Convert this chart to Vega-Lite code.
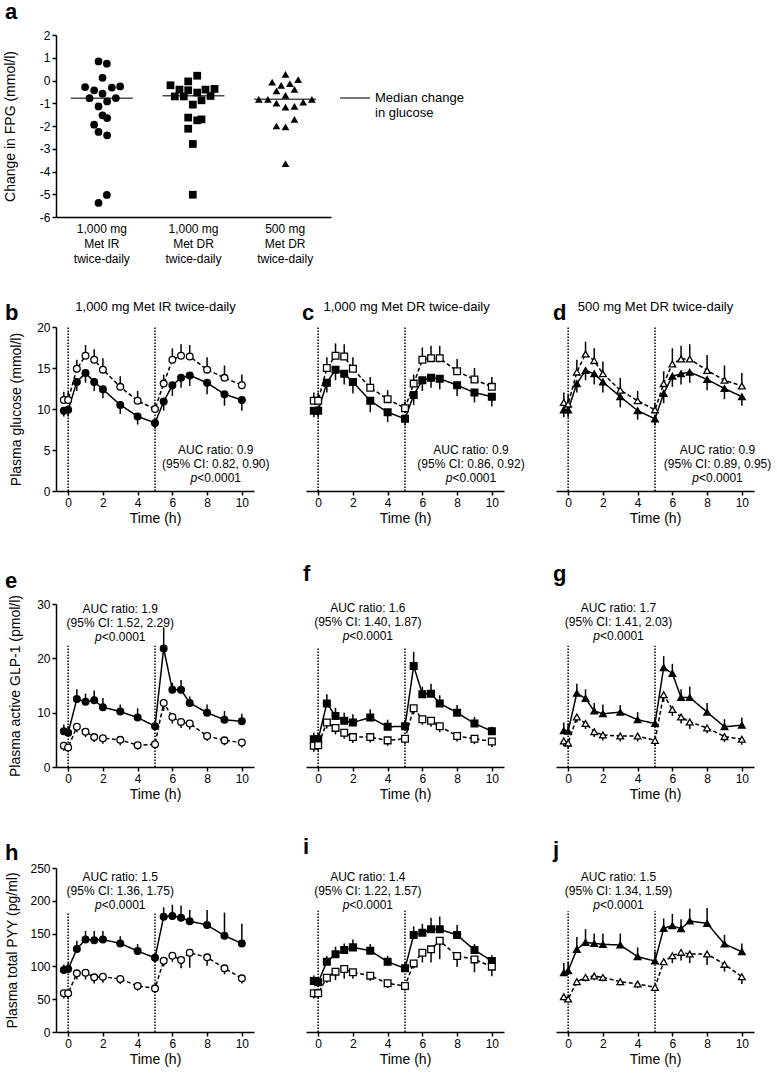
{
 "$schema": "https://vega.github.io/schema/vega-lite/v6.json",
 "padding": {"left": 3, "top": 1, "right": 5, "bottom": 2},
 "config": {
  "font": "Liberation Sans",
  "view": {"stroke": null},
  "axis": {"domainColor": "black", "domainWidth": 1.5, "tickColor": "black", "tickWidth": 1.5, "tickSize": 4, "labelColor": "black", "labelFontSize": 12, "labelPadding": 2, "titleColor": "black", "titleFontSize": 14, "titleFontWeight": "normal", "grid": false},
  "title": {"fontSize": 22, "fontWeight": "bold", "anchor": "start", "frame": "group", "color": "black"},
  "text": {"color": "black", "fontSize": 12}
 },
 "datasets": {
  "fpg": [
   {"regimen": "1,000 mg Met IR twice-daily", "jitter": -3.3, "change": 0.84},
   {"regimen": "1,000 mg Met IR twice-daily", "jitter": 5, "change": 0.74},
   {"regimen": "1,000 mg Met IR twice-daily", "jitter": 0.7, "change": 0.12},
   {"regimen": "1,000 mg Met IR twice-daily", "jitter": -16.7, "change": -0.29},
   {"regimen": "1,000 mg Met IR twice-daily", "jitter": -7.7, "change": -0.43},
   {"regimen": "1,000 mg Met IR twice-daily", "jitter": 10, "change": -0.31},
   {"regimen": "1,000 mg Met IR twice-daily", "jitter": 18.3, "change": -0.26},
   {"regimen": "1,000 mg Met IR twice-daily", "jitter": -12.3, "change": -0.78},
   {"regimen": "1,000 mg Met IR twice-daily", "jitter": 0.7, "change": -0.58},
   {"regimen": "1,000 mg Met IR twice-daily", "jitter": 5.3, "change": -0.92},
   {"regimen": "1,000 mg Met IR twice-daily", "jitter": 14, "change": -0.77},
   {"regimen": "1,000 mg Met IR twice-daily", "jitter": -3.3, "change": -1.14},
   {"regimen": "1,000 mg Met IR twice-daily", "jitter": 0.7, "change": -1.53},
   {"regimen": "1,000 mg Met IR twice-daily", "jitter": 5.3, "change": -1.65},
   {"regimen": "1,000 mg Met IR twice-daily", "jitter": -7.7, "change": -1.94},
   {"regimen": "1,000 mg Met IR twice-daily", "jitter": -3.3, "change": -2.26},
   {"regimen": "1,000 mg Met IR twice-daily", "jitter": 5.3, "change": -2.41},
   {"regimen": "1,000 mg Met IR twice-daily", "jitter": 5, "change": -5.03},
   {"regimen": "1,000 mg Met IR twice-daily", "jitter": -3.3, "change": -5.38},
   {"regimen": "1,000 mg Met DR twice-daily", "jitter": 3.7, "change": 0.21},
   {"regimen": "1,000 mg Met DR twice-daily", "jitter": -5.3, "change": -0.04},
   {"regimen": "1,000 mg Met DR twice-daily", "jitter": -23, "change": -0.21},
   {"regimen": "1,000 mg Met DR twice-daily", "jitter": -14, "change": -0.4},
   {"regimen": "1,000 mg Met DR twice-daily", "jitter": -5.3, "change": -0.43},
   {"regimen": "1,000 mg Met DR twice-daily", "jitter": 12, "change": -0.4},
   {"regimen": "1,000 mg Met DR twice-daily", "jitter": 21, "change": -0.37},
   {"regimen": "1,000 mg Met DR twice-daily", "jitter": -18.7, "change": -0.7},
   {"regimen": "1,000 mg Met DR twice-daily", "jitter": -9.7, "change": -0.7},
   {"regimen": "1,000 mg Met DR twice-daily", "jitter": 3.7, "change": -0.53},
   {"regimen": "1,000 mg Met DR twice-daily", "jitter": 17, "change": -0.68},
   {"regimen": "1,000 mg Met DR twice-daily", "jitter": 8, "change": -0.87},
   {"regimen": "1,000 mg Met DR twice-daily", "jitter": -0.7, "change": -1.06},
   {"regimen": "1,000 mg Met DR twice-daily", "jitter": -5.3, "change": -1.63},
   {"regimen": "1,000 mg Met DR twice-daily", "jitter": 3.7, "change": -1.75},
   {"regimen": "1,000 mg Met DR twice-daily", "jitter": 8, "change": -1.71},
   {"regimen": "1,000 mg Met DR twice-daily", "jitter": -5.3, "change": -2.12},
   {"regimen": "1,000 mg Met DR twice-daily", "jitter": -0.7, "change": -2.79},
   {"regimen": "1,000 mg Met DR twice-daily", "jitter": -0.7, "change": -5.02},
   {"regimen": "500 mg Met DR twice-daily", "jitter": 0.3, "change": 0.27},
   {"regimen": "500 mg Met DR twice-daily", "jitter": -13, "change": -0.07},
   {"regimen": "500 mg Met DR twice-daily", "jitter": -4, "change": -0.21},
   {"regimen": "500 mg Met DR twice-daily", "jitter": 4.7, "change": -0.14},
   {"regimen": "500 mg Met DR twice-daily", "jitter": 13, "change": 0.04},
   {"regimen": "500 mg Met DR twice-daily", "jitter": -8.7, "change": -0.46},
   {"regimen": "500 mg Met DR twice-daily", "jitter": 9.3, "change": -0.39},
   {"regimen": "500 mg Met DR twice-daily", "jitter": 0.3, "change": -0.65},
   {"regimen": "500 mg Met DR twice-daily", "jitter": -26.3, "change": -0.83},
   {"regimen": "500 mg Met DR twice-daily", "jitter": -17.3, "change": -0.83},
   {"regimen": "500 mg Met DR twice-daily", "jitter": 26.7, "change": -0.83},
   {"regimen": "500 mg Met DR twice-daily", "jitter": -8.7, "change": -0.99},
   {"regimen": "500 mg Met DR twice-daily", "jitter": 0.3, "change": -1.17},
   {"regimen": "500 mg Met DR twice-daily", "jitter": 9.3, "change": -1.14},
   {"regimen": "500 mg Met DR twice-daily", "jitter": 18, "change": -0.95},
   {"regimen": "500 mg Met DR twice-daily", "jitter": 9.3, "change": -1.71},
   {"regimen": "500 mg Met DR twice-daily", "jitter": -8.7, "change": -2.0},
   {"regimen": "500 mg Met DR twice-daily", "jitter": 0.3, "change": -2.04},
   {"regimen": "500 mg Met DR twice-daily", "jitter": 0.3, "change": -3.66}
  ],
  "medians": [
   {"regimen": "1,000 mg Met IR twice-daily", "median": -0.78},
   {"regimen": "1,000 mg Met DR twice-daily", "median": -0.67},
   {"regimen": "500 mg Met DR twice-daily", "median": -0.82}
  ],
  "ts": [
   {"panel":"b","arm":"trt","t":-0.25,"v":9.8,"bar":9.1},{"panel":"b","arm":"trt","t":0,"v":9.9,"bar":9.1},{"panel":"b","arm":"trt","t":0.5,"v":13.3,"bar":12.2},{"panel":"b","arm":"trt","t":1,"v":14.4,"bar":13.2},{"panel":"b","arm":"trt","t":1.5,"v":13.3,"bar":12.2},{"panel":"b","arm":"trt","t":2,"v":12.4,"bar":11.3},{"panel":"b","arm":"trt","t":3,"v":10.5,"bar":9.4},{"panel":"b","arm":"trt","t":4,"v":9.1,"bar":8.1},{"panel":"b","arm":"trt","t":5,"v":8.3,"bar":7.6},{"panel":"b","arm":"trt","t":5.5,"v":10.9,"bar":9.8},{"panel":"b","arm":"trt","t":6,"v":12.9,"bar":11.6},{"panel":"b","arm":"trt","t":6.5,"v":13.8,"bar":12.6},{"panel":"b","arm":"trt","t":7,"v":14.1,"bar":12.8},{"panel":"b","arm":"trt","t":8,"v":13.2,"bar":11.8},{"panel":"b","arm":"trt","t":9,"v":11.8,"bar":10.4},{"panel":"b","arm":"trt","t":10,"v":11.1,"bar":9.8},
   {"panel":"b","arm":"ctl","t":-0.25,"v":11.1,"bar":12.1},{"panel":"b","arm":"ctl","t":0,"v":11.1,"bar":12.1},{"panel":"b","arm":"ctl","t":0.5,"v":14.9,"bar":16.0},{"panel":"b","arm":"ctl","t":1,"v":16.5,"bar":17.8},{"panel":"b","arm":"ctl","t":1.5,"v":16.0,"bar":17.3},{"panel":"b","arm":"ctl","t":2,"v":14.8,"bar":16.2},{"panel":"b","arm":"ctl","t":3,"v":12.7,"bar":14.0},{"panel":"b","arm":"ctl","t":4,"v":11.0,"bar":12.2},{"panel":"b","arm":"ctl","t":5,"v":10.0,"bar":10.7},{"panel":"b","arm":"ctl","t":5.5,"v":13.1,"bar":14.2},{"panel":"b","arm":"ctl","t":6,"v":16.0,"bar":17.4},{"panel":"b","arm":"ctl","t":6.5,"v":16.5,"bar":17.9},{"panel":"b","arm":"ctl","t":7,"v":16.4,"bar":17.8},{"panel":"b","arm":"ctl","t":8,"v":14.8,"bar":16.3},{"panel":"b","arm":"ctl","t":9,"v":13.8,"bar":15.3},{"panel":"b","arm":"ctl","t":10,"v":12.9,"bar":14.2},
   {"panel":"c","arm":"trt","t":-0.25,"v":9.8,"bar":9.0},{"panel":"c","arm":"trt","t":0,"v":9.8,"bar":9.0},{"panel":"c","arm":"trt","t":0.5,"v":13.2,"bar":12.0},{"panel":"c","arm":"trt","t":1,"v":14.8,"bar":13.5},{"panel":"c","arm":"trt","t":1.5,"v":14.3,"bar":13.0},{"panel":"c","arm":"trt","t":2,"v":13.3,"bar":11.9},{"panel":"c","arm":"trt","t":3,"v":11.0,"bar":9.6},{"panel":"c","arm":"trt","t":4,"v":9.6,"bar":8.4},{"panel":"c","arm":"trt","t":5,"v":8.8,"bar":8.0},{"panel":"c","arm":"trt","t":5.5,"v":11.7,"bar":10.5},{"panel":"c","arm":"trt","t":6,"v":13.5,"bar":12.2},{"panel":"c","arm":"trt","t":6.5,"v":13.8,"bar":12.6},{"panel":"c","arm":"trt","t":7,"v":13.7,"bar":12.4},{"panel":"c","arm":"trt","t":8,"v":12.9,"bar":11.6},{"panel":"c","arm":"trt","t":9,"v":12.0,"bar":10.8},{"panel":"c","arm":"trt","t":10,"v":11.5,"bar":10.3},
   {"panel":"c","arm":"ctl","t":-0.25,"v":11.0,"bar":12.0},{"panel":"c","arm":"ctl","t":0,"v":11.0,"bar":12.0},{"panel":"c","arm":"ctl","t":0.5,"v":15.0,"bar":16.3},{"panel":"c","arm":"ctl","t":1,"v":16.5,"bar":18.0},{"panel":"c","arm":"ctl","t":1.5,"v":16.4,"bar":17.9},{"panel":"c","arm":"ctl","t":2,"v":14.9,"bar":16.3},{"panel":"c","arm":"ctl","t":3,"v":12.6,"bar":13.9},{"panel":"c","arm":"ctl","t":4,"v":11.2,"bar":12.3},{"panel":"c","arm":"ctl","t":5,"v":10.1,"bar":10.9},{"panel":"c","arm":"ctl","t":5.5,"v":13.1,"bar":14.2},{"panel":"c","arm":"ctl","t":6,"v":16.0,"bar":17.5},{"panel":"c","arm":"ctl","t":6.5,"v":16.2,"bar":17.7},{"panel":"c","arm":"ctl","t":7,"v":16.2,"bar":17.7},{"panel":"c","arm":"ctl","t":8,"v":14.6,"bar":16.1},{"panel":"c","arm":"ctl","t":9,"v":13.6,"bar":15.0},{"panel":"c","arm":"ctl","t":10,"v":12.7,"bar":13.9},
   {"panel":"d","arm":"trt","t":-0.25,"v":9.9,"bar":9.0},{"panel":"d","arm":"trt","t":0,"v":9.9,"bar":9.0},{"panel":"d","arm":"trt","t":0.5,"v":13.1,"bar":12.0},{"panel":"d","arm":"trt","t":1,"v":14.7,"bar":13.5},{"panel":"d","arm":"trt","t":1.5,"v":14.3,"bar":13.0},{"panel":"d","arm":"trt","t":2,"v":13.3,"bar":12.0},{"panel":"d","arm":"trt","t":3,"v":11.5,"bar":10.2},{"panel":"d","arm":"trt","t":4,"v":9.8,"bar":8.7},{"panel":"d","arm":"trt","t":5,"v":8.8,"bar":8.0},{"panel":"d","arm":"trt","t":5.5,"v":11.9,"bar":10.7},{"panel":"d","arm":"trt","t":6,"v":14.0,"bar":12.7},{"panel":"d","arm":"trt","t":6.5,"v":14.3,"bar":13.0},{"panel":"d","arm":"trt","t":7,"v":14.5,"bar":13.2},{"panel":"d","arm":"trt","t":8,"v":13.6,"bar":12.3},{"panel":"d","arm":"trt","t":9,"v":12.5,"bar":11.2},{"panel":"d","arm":"trt","t":10,"v":11.5,"bar":10.4},
   {"panel":"d","arm":"ctl","t":-0.25,"v":10.8,"bar":12.0},{"panel":"d","arm":"ctl","t":0,"v":10.6,"bar":11.8},{"panel":"d","arm":"ctl","t":0.5,"v":14.5,"bar":16.0},{"panel":"d","arm":"ctl","t":1,"v":16.7,"bar":18.2},{"panel":"d","arm":"ctl","t":1.5,"v":15.9,"bar":17.4},{"panel":"d","arm":"ctl","t":2,"v":14.3,"bar":15.8},{"panel":"d","arm":"ctl","t":3,"v":12.3,"bar":13.8},{"panel":"d","arm":"ctl","t":4,"v":11.0,"bar":12.2},{"panel":"d","arm":"ctl","t":5,"v":9.9,"bar":10.7},{"panel":"d","arm":"ctl","t":5.5,"v":13.1,"bar":14.6},{"panel":"d","arm":"ctl","t":6,"v":15.5,"bar":17.4},{"panel":"d","arm":"ctl","t":6.5,"v":16.1,"bar":17.7},{"panel":"d","arm":"ctl","t":7,"v":16.1,"bar":17.9},{"panel":"d","arm":"ctl","t":8,"v":14.7,"bar":16.6},{"panel":"d","arm":"ctl","t":9,"v":13.5,"bar":15.3},{"panel":"d","arm":"ctl","t":10,"v":12.8,"bar":14.4},
   {"panel":"e","arm":"trt","t":-0.25,"v":6.6,"bar":7.8},{"panel":"e","arm":"trt","t":0,"v":6.3,"bar":7.5},{"panel":"e","arm":"trt","t":0.5,"v":12.5,"bar":14.3},{"panel":"e","arm":"trt","t":1,"v":12.0,"bar":13.5},{"panel":"e","arm":"trt","t":1.5,"v":12.3,"bar":14.1},{"panel":"e","arm":"trt","t":2,"v":11.0,"bar":12.7},{"panel":"e","arm":"trt","t":3,"v":10.2,"bar":11.5},{"panel":"e","arm":"trt","t":4,"v":9.1,"bar":10.8},{"panel":"e","arm":"trt","t":5,"v":7.5,"bar":8.4},{"panel":"e","arm":"trt","t":5.5,"v":21.8,"bar":25.7},{"panel":"e","arm":"trt","t":6,"v":14.2,"bar":15.5},{"panel":"e","arm":"trt","t":6.5,"v":14.2,"bar":16.0},{"panel":"e","arm":"trt","t":7,"v":11.8,"bar":13.0},{"panel":"e","arm":"trt","t":8,"v":10.0,"bar":11.5},{"panel":"e","arm":"trt","t":9,"v":8.7,"bar":10.3},{"panel":"e","arm":"trt","t":10,"v":8.4,"bar":9.8},
   {"panel":"e","arm":"ctl","t":-0.25,"v":3.9,"bar":3.0},{"panel":"e","arm":"ctl","t":0,"v":3.6,"bar":2.7},{"panel":"e","arm":"ctl","t":0.5,"v":7.4,"bar":6.4},{"panel":"e","arm":"ctl","t":1,"v":6.5,"bar":5.5},{"panel":"e","arm":"ctl","t":1.5,"v":5.5,"bar":4.6},{"panel":"e","arm":"ctl","t":2,"v":5.3,"bar":4.3},{"panel":"e","arm":"ctl","t":3,"v":5.0,"bar":4.0},{"panel":"e","arm":"ctl","t":4,"v":4.0,"bar":3.2},{"panel":"e","arm":"ctl","t":5,"v":4.2,"bar":3.4},{"panel":"e","arm":"ctl","t":5.5,"v":11.8,"bar":10.3},{"panel":"e","arm":"ctl","t":6,"v":9.2,"bar":8.0},{"panel":"e","arm":"ctl","t":6.5,"v":8.3,"bar":7.2},{"panel":"e","arm":"ctl","t":7,"v":8.0,"bar":6.9},{"panel":"e","arm":"ctl","t":8,"v":5.7,"bar":4.8},{"panel":"e","arm":"ctl","t":9,"v":4.9,"bar":4.0},{"panel":"e","arm":"ctl","t":10,"v":4.5,"bar":3.6},
   {"panel":"f","arm":"trt","t":-0.25,"v":5.1,"bar":6.3},{"panel":"f","arm":"trt","t":0,"v":5.1,"bar":6.3},{"panel":"f","arm":"trt","t":0.5,"v":11.7,"bar":13.4},{"panel":"f","arm":"trt","t":1,"v":9.4,"bar":10.9},{"panel":"f","arm":"trt","t":1.5,"v":8.5,"bar":10.0},{"panel":"f","arm":"trt","t":2,"v":8.2,"bar":9.7},{"panel":"f","arm":"trt","t":3,"v":9.1,"bar":10.6},{"panel":"f","arm":"trt","t":4,"v":7.4,"bar":8.7},{"panel":"f","arm":"trt","t":5,"v":7.5,"bar":8.7},{"panel":"f","arm":"trt","t":5.5,"v":18.6,"bar":21.2},{"panel":"f","arm":"trt","t":6,"v":13.4,"bar":14.8},{"panel":"f","arm":"trt","t":6.5,"v":13.5,"bar":15.3},{"panel":"f","arm":"trt","t":7,"v":11.7,"bar":13.2},{"panel":"f","arm":"trt","t":8,"v":10.0,"bar":11.4},{"panel":"f","arm":"trt","t":9,"v":8.0,"bar":9.2},{"panel":"f","arm":"trt","t":10,"v":6.6,"bar":7.4},
   {"panel":"f","arm":"ctl","t":-0.25,"v":3.9,"bar":2.8},{"panel":"f","arm":"ctl","t":0,"v":4.0,"bar":3.0},{"panel":"f","arm":"ctl","t":0.5,"v":8.2,"bar":7.1},{"panel":"f","arm":"ctl","t":1,"v":7.2,"bar":6.0},{"panel":"f","arm":"ctl","t":1.5,"v":6.3,"bar":5.2},{"panel":"f","arm":"ctl","t":2,"v":5.5,"bar":4.4},{"panel":"f","arm":"ctl","t":3,"v":5.5,"bar":4.5},{"panel":"f","arm":"ctl","t":4,"v":4.9,"bar":3.9},{"panel":"f","arm":"ctl","t":5,"v":5.2,"bar":4.2},{"panel":"f","arm":"ctl","t":5.5,"v":10.8,"bar":9.7},{"panel":"f","arm":"ctl","t":6,"v":8.8,"bar":7.8},{"panel":"f","arm":"ctl","t":6.5,"v":8.5,"bar":7.4},{"panel":"f","arm":"ctl","t":7,"v":7.5,"bar":6.4},{"panel":"f","arm":"ctl","t":8,"v":5.7,"bar":4.7},{"panel":"f","arm":"ctl","t":9,"v":5.2,"bar":4.2},{"panel":"f","arm":"ctl","t":10,"v":4.7,"bar":3.7},
   {"panel":"g","arm":"trt","t":-0.25,"v":6.7,"bar":8.2},{"panel":"g","arm":"trt","t":0,"v":6.6,"bar":8.0},{"panel":"g","arm":"trt","t":0.5,"v":13.6,"bar":15.3},{"panel":"g","arm":"trt","t":1,"v":12.6,"bar":14.3},{"panel":"g","arm":"trt","t":1.5,"v":10.3,"bar":11.8},{"panel":"g","arm":"trt","t":2,"v":9.8,"bar":11.5},{"panel":"g","arm":"trt","t":3,"v":10.1,"bar":11.4},{"panel":"g","arm":"trt","t":4,"v":8.7,"bar":10.1},{"panel":"g","arm":"trt","t":5,"v":8.0,"bar":9.2},{"panel":"g","arm":"trt","t":5.5,"v":18.3,"bar":20.4},{"panel":"g","arm":"trt","t":6,"v":17.2,"bar":19.0},{"panel":"g","arm":"trt","t":6.5,"v":12.8,"bar":14.3},{"panel":"g","arm":"trt","t":7,"v":12.8,"bar":14.8},{"panel":"g","arm":"trt","t":8,"v":10.1,"bar":11.8},{"panel":"g","arm":"trt","t":9,"v":7.4,"bar":8.8},{"panel":"g","arm":"trt","t":10,"v":7.7,"bar":9.1},
   {"panel":"g","arm":"ctl","t":-0.25,"v":4.8,"bar":3.8},{"panel":"g","arm":"ctl","t":0,"v":4.4,"bar":3.4},{"panel":"g","arm":"ctl","t":0.5,"v":9.2,"bar":8.2},{"panel":"g","arm":"ctl","t":1,"v":8.0,"bar":7.0},{"panel":"g","arm":"ctl","t":1.5,"v":6.5,"bar":5.5},{"panel":"g","arm":"ctl","t":2,"v":5.9,"bar":4.9},{"panel":"g","arm":"ctl","t":3,"v":5.7,"bar":4.7},{"panel":"g","arm":"ctl","t":4,"v":5.7,"bar":4.7},{"panel":"g","arm":"ctl","t":5,"v":4.9,"bar":3.9},{"panel":"g","arm":"ctl","t":5.5,"v":13.3,"bar":12.0},{"panel":"g","arm":"ctl","t":6,"v":10.6,"bar":9.4},{"panel":"g","arm":"ctl","t":6.5,"v":9.2,"bar":8.0},{"panel":"g","arm":"ctl","t":7,"v":8.3,"bar":7.0},{"panel":"g","arm":"ctl","t":8,"v":7.2,"bar":6.2},{"panel":"g","arm":"ctl","t":9,"v":5.6,"bar":4.6},{"panel":"g","arm":"ctl","t":10,"v":5.1,"bar":4.1},
   {"panel":"h","arm":"trt","t":-0.25,"v":94.5,"bar":103},{"panel":"h","arm":"trt","t":0,"v":96,"bar":105},{"panel":"h","arm":"trt","t":0.5,"v":126.5,"bar":139},{"panel":"h","arm":"trt","t":1,"v":141,"bar":154},{"panel":"h","arm":"trt","t":1.5,"v":140,"bar":154},{"panel":"h","arm":"trt","t":2,"v":141,"bar":154},{"panel":"h","arm":"trt","t":3,"v":135,"bar":146},{"panel":"h","arm":"trt","t":4,"v":123.4,"bar":134},{"panel":"h","arm":"trt","t":5,"v":113,"bar":120},{"panel":"h","arm":"trt","t":5.5,"v":175.8,"bar":190},{"panel":"h","arm":"trt","t":6,"v":176.8,"bar":194},{"panel":"h","arm":"trt","t":6.5,"v":174.2,"bar":193},{"panel":"h","arm":"trt","t":7,"v":169,"bar":186},{"panel":"h","arm":"trt","t":8,"v":163,"bar":186},{"panel":"h","arm":"trt","t":9,"v":146.8,"bar":182},{"panel":"h","arm":"trt","t":10,"v":135,"bar":165},
   {"panel":"h","arm":"ctl","t":-0.25,"v":59,"bar":51},{"panel":"h","arm":"ctl","t":0,"v":59,"bar":50},{"panel":"h","arm":"ctl","t":0.5,"v":89.4,"bar":80},{"panel":"h","arm":"ctl","t":1,"v":90.4,"bar":80},{"panel":"h","arm":"ctl","t":1.5,"v":83.3,"bar":74},{"panel":"h","arm":"ctl","t":2,"v":84.3,"bar":75},{"panel":"h","arm":"ctl","t":3,"v":80.8,"bar":73},{"panel":"h","arm":"ctl","t":4,"v":70.1,"bar":63},{"panel":"h","arm":"ctl","t":5,"v":66.5,"bar":60},{"panel":"h","arm":"ctl","t":5.5,"v":108.7,"bar":100},{"panel":"h","arm":"ctl","t":6,"v":116.3,"bar":107},{"panel":"h","arm":"ctl","t":6.5,"v":109.7,"bar":97},{"panel":"h","arm":"ctl","t":7,"v":120.9,"bar":98},{"panel":"h","arm":"ctl","t":8,"v":113.8,"bar":101},{"panel":"h","arm":"ctl","t":9,"v":97,"bar":88},{"panel":"h","arm":"ctl","t":10,"v":81.8,"bar":74},
   {"panel":"i","arm":"trt","t":-0.25,"v":77.7,"bar":86},{"panel":"i","arm":"trt","t":0,"v":75.7,"bar":84},{"panel":"i","arm":"trt","t":0.5,"v":107.2,"bar":116},{"panel":"i","arm":"trt","t":1,"v":118.4,"bar":130},{"panel":"i","arm":"trt","t":1.5,"v":125,"bar":135},{"panel":"i","arm":"trt","t":2,"v":129,"bar":141},{"panel":"i","arm":"trt","t":3,"v":124,"bar":134},{"panel":"i","arm":"trt","t":4,"v":107,"bar":116},{"panel":"i","arm":"trt","t":5,"v":97,"bar":106},{"panel":"i","arm":"trt","t":5.5,"v":147.8,"bar":161},{"panel":"i","arm":"trt","t":6,"v":151.4,"bar":165},{"panel":"i","arm":"trt","t":6.5,"v":156.5,"bar":174},{"panel":"i","arm":"trt","t":7,"v":156.5,"bar":176},{"panel":"i","arm":"trt","t":8,"v":147.8,"bar":163},{"panel":"i","arm":"trt","t":9,"v":125,"bar":134},{"panel":"i","arm":"trt","t":10,"v":108.2,"bar":117},
   {"panel":"i","arm":"ctl","t":-0.25,"v":59,"bar":51},{"panel":"i","arm":"ctl","t":0,"v":59,"bar":51},{"panel":"i","arm":"ctl","t":0.5,"v":82.8,"bar":75},{"panel":"i","arm":"ctl","t":1,"v":92,"bar":79},{"panel":"i","arm":"ctl","t":1.5,"v":96,"bar":81},{"panel":"i","arm":"ctl","t":2,"v":91,"bar":81},{"panel":"i","arm":"ctl","t":3,"v":85.9,"bar":78},{"panel":"i","arm":"ctl","t":4,"v":74.2,"bar":67},{"panel":"i","arm":"ctl","t":5,"v":70.1,"bar":63},{"panel":"i","arm":"ctl","t":5.5,"v":104.6,"bar":97},{"panel":"i","arm":"ctl","t":6,"v":120.9,"bar":106},{"panel":"i","arm":"ctl","t":6.5,"v":126,"bar":106},{"panel":"i","arm":"ctl","t":7,"v":139.2,"bar":111},{"panel":"i","arm":"ctl","t":8,"v":115.8,"bar":99},{"panel":"i","arm":"ctl","t":9,"v":110.7,"bar":91},{"panel":"i","arm":"ctl","t":10,"v":99.6,"bar":85},
   {"panel":"j","arm":"trt","t":-0.25,"v":90.4,"bar":105},{"panel":"j","arm":"trt","t":0,"v":93.5,"bar":107},{"panel":"j","arm":"trt","t":0.5,"v":126,"bar":145},{"panel":"j","arm":"trt","t":1,"v":136.7,"bar":157},{"panel":"j","arm":"trt","t":1.5,"v":135.1,"bar":150},{"panel":"j","arm":"trt","t":2,"v":133.6,"bar":150},{"panel":"j","arm":"trt","t":3,"v":132.6,"bar":150},{"panel":"j","arm":"trt","t":4,"v":114.8,"bar":129},{"panel":"j","arm":"trt","t":5,"v":108.2,"bar":123},{"panel":"j","arm":"trt","t":5.5,"v":158,"bar":173},{"panel":"j","arm":"trt","t":6,"v":162,"bar":180},{"panel":"j","arm":"trt","t":6.5,"v":157.5,"bar":172},{"panel":"j","arm":"trt","t":7,"v":169.2,"bar":188},{"panel":"j","arm":"trt","t":8,"v":165.6,"bar":189},{"panel":"j","arm":"trt","t":9,"v":134.1,"bar":148},{"panel":"j","arm":"trt","t":10,"v":122.4,"bar":135},
   {"panel":"j","arm":"ctl","t":-0.25,"v":53.8,"bar":48},{"panel":"j","arm":"ctl","t":0,"v":50.3,"bar":45},{"panel":"j","arm":"ctl","t":0.5,"v":76.7,"bar":71},{"panel":"j","arm":"ctl","t":1,"v":83.3,"bar":77},{"panel":"j","arm":"ctl","t":1.5,"v":85.3,"bar":79},{"panel":"j","arm":"ctl","t":2,"v":83.3,"bar":77},{"panel":"j","arm":"ctl","t":3,"v":76.7,"bar":71},{"panel":"j","arm":"ctl","t":4,"v":73.2,"bar":67},{"panel":"j","arm":"ctl","t":5,"v":68,"bar":62},{"panel":"j","arm":"ctl","t":5.5,"v":107.2,"bar":102},{"panel":"j","arm":"ctl","t":6,"v":116.3,"bar":105},{"panel":"j","arm":"ctl","t":6.5,"v":121.4,"bar":109},{"panel":"j","arm":"ctl","t":7,"v":118.9,"bar":105},{"panel":"j","arm":"ctl","t":8,"v":118.9,"bar":102},{"panel":"j","arm":"ctl","t":9,"v":103.1,"bar":92},{"panel":"j","arm":"ctl","t":10,"v":84.3,"bar":73}
  ]
 },
 "spacing": 36,
 "resolve": {"scale": {"x": "independent", "y": "independent"}},
 "vconcat": [
  {
   "width": 275, "height": 182,
   "title": {"text": "a", "dx": -51, "offset": 5},
   "layer": [
    {"data": {"name": "fpg"},
     "mark": {"type": "point", "filled": true, "size": 60, "opacity": 1, "color": "black"},
     "encoding": {
      "x": {"field": "regimen", "type": "nominal", "scale": {"domain": ["1,000 mg Met IR twice-daily", "1,000 mg Met DR twice-daily", "500 mg Met DR twice-daily"], "paddingInner": 0, "paddingOuter": 0}, "axis": {"title": null, "ticks": false, "labelAngle": 0, "labelPadding": 6, "labelLineHeight": 15, "labelFontSize": 12, "labelExpr": "[split(datum.label,' ')[0]+' '+split(datum.label,' ')[1], split(datum.label,' ')[2]+' '+split(datum.label,' ')[3], split(datum.label,' ')[4]]"}},
      "xOffset": {"field": "jitter", "type": "quantitative", "scale": {"domain": [-45.8, 45.8]}},
      "y": {"field": "change", "type": "quantitative", "scale": {"domain": [-6, 2], "nice": false}, "axis": {"values": [-6, -5, -4, -3, -2, -1, 0, 1, 2], "labelOverlap": false, "title": "Change in FPG (mmol/l)", "labelExpr": "'' + datum.value", "titlePadding": 22}},
      "shape": {"field": "regimen", "type": "nominal", "scale": {"domain": ["1,000 mg Met IR twice-daily", "1,000 mg Met DR twice-daily", "500 mg Met DR twice-daily"], "range": ["circle", "square", "triangle-up"]}, "legend": null}
     }},
    {"data": {"name": "medians"},
     "mark": {"type": "tick", "thickness": 1.5, "size": 62},
     "encoding": {
      "x": {"field": "regimen", "type": "nominal", "scale": {"domain": ["1,000 mg Met IR twice-daily", "1,000 mg Met DR twice-daily", "500 mg Met DR twice-daily"], "paddingInner": 0, "paddingOuter": 0}, "axis": {"title": null, "ticks": false, "labelAngle": 0, "labelPadding": 6, "labelLineHeight": 15, "labelFontSize": 12, "labelExpr": "[split(datum.label,' ')[0]+' '+split(datum.label,' ')[1], split(datum.label,' ')[2]+' '+split(datum.label,' ')[3], split(datum.label,' ')[4]]"}},
      "y": {"field": "median", "type": "quantitative", "scale": {"domain": [-6, 2], "nice": false}, "axis": {"values": [-6, -5, -4, -3, -2, -1, 0, 1, 2], "labelOverlap": false, "title": "Change in FPG (mmol/l)", "labelExpr": "'' + datum.value", "titlePadding": 22}},
      "color": {"datum": "Median change in glucose", "type": "nominal", "scale": {"range": ["black"]}, "legend": {"orient": "none", "legendX": 283, "legendY": 47, "title": null, "symbolType": "stroke", "symbolSize": 900, "symbolStrokeWidth": 1.5, "symbolStrokeColor": "black", "labelFontSize": 13, "labelOffset": 4, "labelColor": "black", "labelLimit": 0, "labelBaseline": "middle", "labelLineHeight": 14, "padding": 0, "labelExpr": "['Median change', 'in glucose']"}}
     }}
   ]
  },
  {
   "spacing": 38,
   "resolve": {"scale": {"x": "independent", "y": "independent"}},
   "vconcat": [
    {
     "bounds": "flush", "spacing": 52,
     "resolve": {"scale": {"x": "independent", "y": "independent"}},
     "hconcat": [
      {"width": 198, "height": 164,
       "title": {"text": "b", "dx": -51, "offset": -25},
       "resolve": {"axis": {"x": "independent"}},
       "layer": [
        {"data": {"values": [{"dose": 0}, {"dose": 5}]},
         "mark": {"type": "rule", "strokeDash": [1.5, 1.5], "strokeWidth": 1.5, "color": "black"},
         "encoding": {
          "x": {"field": "dose", "type": "quantitative", "scale": {"domain": [-0.7, 10.7], "nice": false, "zero": false}, "axis": {"orient": "top", "title": "1,000 mg Met IR twice-daily", "labels": false, "ticks": false, "domain": false, "titlePadding": 14, "titleFontSize": 13}},
          "y": {"datum": 0, "type": "quantitative", "scale": {"domain": [0, 20], "nice": false}, "axis": {"values": [0, 5, 10, 15, 20], "title": "Plasma glucose (mmol/l)", "titlePadding": 13}},
          "y2": {"datum": 20}}},
        {"data": {"name": "ts"}, "transform": [{"filter": "datum.panel === 'b'"}],
         "encoding": {
          "x": {"field": "t", "type": "quantitative", "scale": {"domain": [-0.7, 10.7], "nice": false, "zero": false}, "axis": {"values": [0, 2, 4, 6, 8, 10], "title": "Time (h)", "titlePadding": 3}},
          "y": {"field": "v", "type": "quantitative", "scale": {"domain": [0, 20], "nice": false}, "axis": {"values": [0, 5, 10, 15, 20], "title": "Plasma glucose (mmol/l)", "titlePadding": 13}}},
         "layer": [
          {"mark": {"type": "rule", "strokeWidth": 1.5, "color": "black"}, "encoding": {"y2": {"field": "bar"}}},
          {"mark": {"type": "line", "strokeWidth": 1.5, "color": "black"}, "encoding": {"strokeDash": {"field": "arm", "type": "nominal", "scale": {"domain": ["trt", "ctl"], "range": [[1, 0], [4, 2.5]]}, "legend": null}}},
          {"mark": {"type": "point", "shape": "circle", "filled": true, "size": 45, "stroke": "black", "strokeWidth": 1.3, "opacity": 1}, "encoding": {"fill": {"field": "arm", "type": "nominal", "scale": {"domain": ["trt", "ctl"], "range": ["black", "white"]}, "legend": null}}}
         ]},
        {"data": {"values": [{"l1": "AUC ratio: 0.9", "l2": "(95% CI: 0.82, 0.90)", "p": "p", "pv": "<0.0001"}]},
         "encoding": {
          "x": {"datum": 8.5, "type": "quantitative", "scale": {"domain": [-0.7, 10.7], "nice": false, "zero": false}, "axis": null},
          "y": {"datum": 5, "type": "quantitative", "scale": {"domain": [0, 20], "nice": false}, "axis": {"values": [0, 5, 10, 15, 20], "title": "Plasma glucose (mmol/l)", "titlePadding": 13}}},
         "layer": [
          {"mark": {"type": "text", "align": "center", "baseline": "middle"}, "encoding": {"text": {"field": "l1"}}},
          {"mark": {"type": "text", "align": "center", "baseline": "middle", "dy": 14}, "encoding": {"text": {"field": "l2"}}},
          {"mark": {"type": "text", "align": "left", "baseline": "middle", "dy": 28, "dx": -25.2, "fontStyle": "italic"}, "encoding": {"text": {"field": "p"}}},
          {"mark": {"type": "text", "align": "left", "baseline": "middle", "dy": 28, "dx": -18.5}, "encoding": {"text": {"field": "pv"}}}
         ]}
       ]},
      {"width": 198, "height": 164,
       "title": {"text": "c", "dx": -4, "offset": -25},
       "resolve": {"axis": {"x": "independent"}},
       "layer": [
        {"data": {"values": [{"dose": 0}, {"dose": 5}]},
         "mark": {"type": "rule", "strokeDash": [1.5, 1.5], "strokeWidth": 1.5, "color": "black"},
         "encoding": {
          "x": {"field": "dose", "type": "quantitative", "scale": {"domain": [-0.7, 10.7], "nice": false, "zero": false}, "axis": {"orient": "top", "title": "1,000 mg Met DR twice-daily", "labels": false, "ticks": false, "domain": false, "titlePadding": 14, "titleFontSize": 13, "titleX": 17, "titleAlign": "left", "titleAnchor": "start"}},
          "y": {"datum": 0, "type": "quantitative", "scale": {"domain": [0, 20], "nice": false}, "axis": null},
          "y2": {"datum": 20}}},
        {"data": {"name": "ts"}, "transform": [{"filter": "datum.panel === 'c'"}],
         "encoding": {
          "x": {"field": "t", "type": "quantitative", "scale": {"domain": [-0.7, 10.7], "nice": false, "zero": false}, "axis": {"values": [0, 2, 4, 6, 8, 10], "title": "Time (h)", "titlePadding": 3}},
          "y": {"field": "v", "type": "quantitative", "scale": {"domain": [0, 20], "nice": false}, "axis": null}},
         "layer": [
          {"mark": {"type": "rule", "strokeWidth": 1.5, "color": "black"}, "encoding": {"y2": {"field": "bar"}}},
          {"mark": {"type": "line", "strokeWidth": 1.5, "color": "black"}, "encoding": {"strokeDash": {"field": "arm", "type": "nominal", "scale": {"domain": ["trt", "ctl"], "range": [[1, 0], [4, 2.5]]}, "legend": null}}},
          {"mark": {"type": "point", "shape": "square", "filled": true, "size": 45, "stroke": "black", "strokeWidth": 1.3, "opacity": 1}, "encoding": {"fill": {"field": "arm", "type": "nominal", "scale": {"domain": ["trt", "ctl"], "range": ["black", "white"]}, "legend": null}}}
         ]},
        {"data": {"values": [{"l1": "AUC ratio: 0.9", "l2": "(95% CI: 0.86, 0.92)", "p": "p", "pv": "<0.0001"}]},
         "encoding": {
          "x": {"datum": 8.8, "type": "quantitative", "scale": {"domain": [-0.7, 10.7], "nice": false, "zero": false}, "axis": null},
          "y": {"datum": 5, "type": "quantitative", "scale": {"domain": [0, 20], "nice": false}, "axis": null}},
         "layer": [
          {"mark": {"type": "text", "align": "center", "baseline": "middle"}, "encoding": {"text": {"field": "l1"}}},
          {"mark": {"type": "text", "align": "center", "baseline": "middle", "dy": 14}, "encoding": {"text": {"field": "l2"}}},
          {"mark": {"type": "text", "align": "left", "baseline": "middle", "dy": 28, "dx": -25.2, "fontStyle": "italic"}, "encoding": {"text": {"field": "p"}}},
          {"mark": {"type": "text", "align": "left", "baseline": "middle", "dy": 28, "dx": -18.5}, "encoding": {"text": {"field": "pv"}}}
         ]}
       ]},
      {"width": 198, "height": 164,
       "title": {"text": "d", "dx": -3, "offset": -25},
       "resolve": {"axis": {"x": "independent"}},
       "layer": [
        {"data": {"values": [{"dose": 0}, {"dose": 5}]},
         "mark": {"type": "rule", "strokeDash": [1.5, 1.5], "strokeWidth": 1.5, "color": "black"},
         "encoding": {
          "x": {"field": "dose", "type": "quantitative", "scale": {"domain": [-0.7, 10.7], "nice": false, "zero": false}, "axis": {"orient": "top", "title": "500 mg Met DR twice-daily", "labels": false, "ticks": false, "domain": false, "titlePadding": 14, "titleFontSize": 13}},
          "y": {"datum": 0, "type": "quantitative", "scale": {"domain": [0, 20], "nice": false}, "axis": null},
          "y2": {"datum": 20}}},
        {"data": {"name": "ts"}, "transform": [{"filter": "datum.panel === 'd'"}],
         "encoding": {
          "x": {"field": "t", "type": "quantitative", "scale": {"domain": [-0.7, 10.7], "nice": false, "zero": false}, "axis": {"values": [0, 2, 4, 6, 8, 10], "title": "Time (h)", "titlePadding": 3}},
          "y": {"field": "v", "type": "quantitative", "scale": {"domain": [0, 20], "nice": false}, "axis": null}},
         "layer": [
          {"mark": {"type": "rule", "strokeWidth": 1.5, "color": "black"}, "encoding": {"y2": {"field": "bar"}}},
          {"mark": {"type": "line", "strokeWidth": 1.5, "color": "black"}, "encoding": {"strokeDash": {"field": "arm", "type": "nominal", "scale": {"domain": ["trt", "ctl"], "range": [[1, 0], [4, 2.5]]}, "legend": null}}},
          {"mark": {"type": "point", "shape": "triangle-up", "filled": true, "size": 45, "stroke": "black", "strokeWidth": 1.3, "opacity": 1}, "encoding": {"fill": {"field": "arm", "type": "nominal", "scale": {"domain": ["trt", "ctl"], "range": ["black", "white"]}, "legend": null}}}
         ]},
        {"data": {"values": [{"l1": "AUC ratio: 0.9", "l2": "(95% CI: 0.89, 0.95)", "p": "p", "pv": "<0.0001"}]},
         "encoding": {
          "x": {"datum": 8.6, "type": "quantitative", "scale": {"domain": [-0.7, 10.7], "nice": false, "zero": false}, "axis": null},
          "y": {"datum": 5, "type": "quantitative", "scale": {"domain": [0, 20], "nice": false}, "axis": null}},
         "layer": [
          {"mark": {"type": "text", "align": "center", "baseline": "middle"}, "encoding": {"text": {"field": "l1"}}},
          {"mark": {"type": "text", "align": "center", "baseline": "middle", "dy": 14}, "encoding": {"text": {"field": "l2"}}},
          {"mark": {"type": "text", "align": "left", "baseline": "middle", "dy": 28, "dx": -25.2, "fontStyle": "italic"}, "encoding": {"text": {"field": "p"}}},
          {"mark": {"type": "text", "align": "left", "baseline": "middle", "dy": 28, "dx": -18.5}, "encoding": {"text": {"field": "pv"}}}
         ]}
       ]}
     ]
    },
    {
     "spacing": 35,
     "resolve": {"scale": {"x": "independent", "y": "independent"}},
     "vconcat": [
      {
       "bounds": "flush", "spacing": 52,
       "resolve": {"scale": {"x": "independent", "y": "independent"}},
       "hconcat": [
        {"width": 198, "height": 163,
         "title": {"text": "e", "dx": -51, "offset": 1},
         "layer": [
          {"data": {"values": [{"dose": 0}, {"dose": 5}]},
           "mark": {"type": "rule", "strokeDash": [1.5, 1.5], "strokeWidth": 1.5, "color": "black"},
           "encoding": {
            "x": {"field": "dose", "type": "quantitative", "scale": {"domain": [-0.7, 10.7], "nice": false, "zero": false}, "axis": {"values": [0, 2, 4, 6, 8, 10], "title": "Time (h)", "titlePadding": 3}},
            "y": {"datum": 0, "type": "quantitative", "scale": {"domain": [0, 30], "nice": false}, "axis": {"values": [0, 10, 20, 30], "title": "Plasma active GLP-1 (pmol/l)", "titlePadding": 14}},
            "y2": {"datum": 22.3}}},
          {"data": {"name": "ts"}, "transform": [{"filter": "datum.panel === 'e'"}],
           "encoding": {
            "x": {"field": "t", "type": "quantitative", "scale": {"domain": [-0.7, 10.7], "nice": false, "zero": false}, "axis": {"values": [0, 2, 4, 6, 8, 10], "title": "Time (h)", "titlePadding": 3}},
            "y": {"field": "v", "type": "quantitative", "scale": {"domain": [0, 30], "nice": false}, "axis": {"values": [0, 10, 20, 30], "title": "Plasma active GLP-1 (pmol/l)", "titlePadding": 14}}},
           "layer": [
            {"mark": {"type": "rule", "strokeWidth": 1.5, "color": "black"}, "encoding": {"y2": {"field": "bar"}}},
            {"mark": {"type": "line", "strokeWidth": 1.5, "color": "black"}, "encoding": {"strokeDash": {"field": "arm", "type": "nominal", "scale": {"domain": ["trt", "ctl"], "range": [[1, 0], [4, 2.5]]}, "legend": null}}},
            {"mark": {"type": "point", "shape": "circle", "filled": true, "size": 45, "stroke": "black", "strokeWidth": 1.3, "opacity": 1}, "encoding": {"fill": {"field": "arm", "type": "nominal", "scale": {"domain": ["trt", "ctl"], "range": ["black", "white"]}, "legend": null}}}
           ]},
          {"data": {"values": [{"l1": "AUC ratio: 1.9", "l2": "(95% CI: 1.52, 2.29)", "p": "p", "pv": "<0.0001"}]},
           "encoding": {
            "x": {"datum": 3.0, "type": "quantitative", "scale": {"domain": [-0.7, 10.7], "nice": false, "zero": false}, "axis": {"values": [0, 2, 4, 6, 8, 10], "title": "Time (h)", "titlePadding": 3}},
            "y": {"datum": 29.0, "type": "quantitative", "scale": {"domain": [0, 30], "nice": false}, "axis": {"values": [0, 10, 20, 30], "title": "Plasma active GLP-1 (pmol/l)", "titlePadding": 14}}},
           "layer": [
            {"mark": {"type": "text", "align": "center", "baseline": "middle"}, "encoding": {"text": {"field": "l1"}}},
            {"mark": {"type": "text", "align": "center", "baseline": "middle", "dy": 14}, "encoding": {"text": {"field": "l2"}}},
            {"mark": {"type": "text", "align": "left", "baseline": "middle", "dy": 28, "dx": -25.2, "fontStyle": "italic"}, "encoding": {"text": {"field": "p"}}},
            {"mark": {"type": "text", "align": "left", "baseline": "middle", "dy": 28, "dx": -18.5}, "encoding": {"text": {"field": "pv"}}}
           ]}
         ]},
        {"width": 198, "height": 163,
         "title": {"text": "f", "dx": -3, "offset": 16},
         "layer": [
          {"data": {"values": [{"dose": 0}, {"dose": 5}]},
           "mark": {"type": "rule", "strokeDash": [1.5, 1.5], "strokeWidth": 1.5, "color": "black"},
           "encoding": {
            "x": {"field": "dose", "type": "quantitative", "scale": {"domain": [-0.7, 10.7], "nice": false, "zero": false}, "axis": {"values": [0, 2, 4, 6, 8, 10], "title": "Time (h)", "titlePadding": 3}},
            "y": {"datum": 0, "type": "quantitative", "scale": {"domain": [0, 30], "nice": false}, "axis": null},
            "y2": {"datum": 21.8}}},
          {"data": {"name": "ts"}, "transform": [{"filter": "datum.panel === 'f'"}],
           "encoding": {
            "x": {"field": "t", "type": "quantitative", "scale": {"domain": [-0.7, 10.7], "nice": false, "zero": false}, "axis": {"values": [0, 2, 4, 6, 8, 10], "title": "Time (h)", "titlePadding": 3}},
            "y": {"field": "v", "type": "quantitative", "scale": {"domain": [0, 30], "nice": false}, "axis": null}},
           "layer": [
            {"mark": {"type": "rule", "strokeWidth": 1.5, "color": "black"}, "encoding": {"y2": {"field": "bar"}}},
            {"mark": {"type": "line", "strokeWidth": 1.5, "color": "black"}, "encoding": {"strokeDash": {"field": "arm", "type": "nominal", "scale": {"domain": ["trt", "ctl"], "range": [[1, 0], [4, 2.5]]}, "legend": null}}},
            {"mark": {"type": "point", "shape": "square", "filled": true, "size": 45, "stroke": "black", "strokeWidth": 1.3, "opacity": 1}, "encoding": {"fill": {"field": "arm", "type": "nominal", "scale": {"domain": ["trt", "ctl"], "range": ["black", "white"]}, "legend": null}}}
           ]},
          {"data": {"values": [{"l1": "AUC ratio: 1.6", "l2": "(95% CI: 1.40, 1.87)", "p": "p", "pv": "<0.0001"}]},
           "encoding": {
            "x": {"datum": 2.86, "type": "quantitative", "scale": {"domain": [-0.7, 10.7], "nice": false, "zero": false}, "axis": {"values": [0, 2, 4, 6, 8, 10], "title": "Time (h)", "titlePadding": 3}},
            "y": {"datum": 29.2, "type": "quantitative", "scale": {"domain": [0, 30], "nice": false}, "axis": null}},
           "layer": [
            {"mark": {"type": "text", "align": "center", "baseline": "middle"}, "encoding": {"text": {"field": "l1"}}},
            {"mark": {"type": "text", "align": "center", "baseline": "middle", "dy": 14}, "encoding": {"text": {"field": "l2"}}},
            {"mark": {"type": "text", "align": "left", "baseline": "middle", "dy": 28, "dx": -25.2, "fontStyle": "italic"}, "encoding": {"text": {"field": "p"}}},
            {"mark": {"type": "text", "align": "left", "baseline": "middle", "dy": 28, "dx": -18.5}, "encoding": {"text": {"field": "pv"}}}
           ]}
         ]},
        {"width": 198, "height": 163,
         "title": {"text": "g", "dx": -3, "offset": 16},
         "layer": [
          {"data": {"values": [{"dose": 0}, {"dose": 5}]},
           "mark": {"type": "rule", "strokeDash": [1.5, 1.5], "strokeWidth": 1.5, "color": "black"},
           "encoding": {
            "x": {"field": "dose", "type": "quantitative", "scale": {"domain": [-0.7, 10.7], "nice": false, "zero": false}, "axis": {"values": [0, 2, 4, 6, 8, 10], "title": "Time (h)", "titlePadding": 3}},
            "y": {"datum": 0, "type": "quantitative", "scale": {"domain": [0, 30], "nice": false}, "axis": null},
            "y2": {"datum": 22.3}}},
          {"data": {"name": "ts"}, "transform": [{"filter": "datum.panel === 'g'"}],
           "encoding": {
            "x": {"field": "t", "type": "quantitative", "scale": {"domain": [-0.7, 10.7], "nice": false, "zero": false}, "axis": {"values": [0, 2, 4, 6, 8, 10], "title": "Time (h)", "titlePadding": 3}},
            "y": {"field": "v", "type": "quantitative", "scale": {"domain": [0, 30], "nice": false}, "axis": null}},
           "layer": [
            {"mark": {"type": "rule", "strokeWidth": 1.5, "color": "black"}, "encoding": {"y2": {"field": "bar"}}},
            {"mark": {"type": "line", "strokeWidth": 1.5, "color": "black"}, "encoding": {"strokeDash": {"field": "arm", "type": "nominal", "scale": {"domain": ["trt", "ctl"], "range": [[1, 0], [4, 2.5]]}, "legend": null}}},
            {"mark": {"type": "point", "shape": "triangle-up", "filled": true, "size": 45, "stroke": "black", "strokeWidth": 1.3, "opacity": 1}, "encoding": {"fill": {"field": "arm", "type": "nominal", "scale": {"domain": ["trt", "ctl"], "range": ["black", "white"]}, "legend": null}}}
           ]},
          {"data": {"values": [{"l1": "AUC ratio: 1.7", "l2": "(95% CI: 1.41, 2.03)", "p": "p", "pv": "<0.0001"}]},
           "encoding": {
            "x": {"datum": 2.9, "type": "quantitative", "scale": {"domain": [-0.7, 10.7], "nice": false, "zero": false}, "axis": {"values": [0, 2, 4, 6, 8, 10], "title": "Time (h)", "titlePadding": 3}},
            "y": {"datum": 29.2, "type": "quantitative", "scale": {"domain": [0, 30], "nice": false}, "axis": null}},
           "layer": [
            {"mark": {"type": "text", "align": "center", "baseline": "middle"}, "encoding": {"text": {"field": "l1"}}},
            {"mark": {"type": "text", "align": "center", "baseline": "middle", "dy": 14}, "encoding": {"text": {"field": "l2"}}},
            {"mark": {"type": "text", "align": "left", "baseline": "middle", "dy": 28, "dx": -25.2, "fontStyle": "italic"}, "encoding": {"text": {"field": "p"}}},
            {"mark": {"type": "text", "align": "left", "baseline": "middle", "dy": 28, "dx": -18.5}, "encoding": {"text": {"field": "pv"}}}
           ]}
         ]}
       ]
      },
      {
       "bounds": "flush", "spacing": 52,
       "resolve": {"scale": {"x": "independent", "y": "independent"}},
       "hconcat": [
        {"width": 198, "height": 164,
         "title": {"text": "h", "dx": -51, "offset": -3},
         "layer": [
          {"data": {"values": [{"dose": 0}, {"dose": 5}]},
           "mark": {"type": "rule", "strokeDash": [1.5, 1.5], "strokeWidth": 1.5, "color": "black"},
           "encoding": {
            "x": {"field": "dose", "type": "quantitative", "scale": {"domain": [-0.7, 10.7], "nice": false, "zero": false}, "axis": {"values": [0, 2, 4, 6, 8, 10], "title": "Time (h)", "titlePadding": 3}},
            "y": {"datum": 0, "type": "quantitative", "scale": {"domain": [0, 250], "nice": false}, "axis": {"values": [0, 50, 100, 150, 200, 250], "title": "Plasma total PYY (pg/ml)", "titlePadding": 10}},
            "y2": {"datum": 181}}},
          {"data": {"name": "ts"}, "transform": [{"filter": "datum.panel === 'h'"}],
           "encoding": {
            "x": {"field": "t", "type": "quantitative", "scale": {"domain": [-0.7, 10.7], "nice": false, "zero": false}, "axis": {"values": [0, 2, 4, 6, 8, 10], "title": "Time (h)", "titlePadding": 3}},
            "y": {"field": "v", "type": "quantitative", "scale": {"domain": [0, 250], "nice": false}, "axis": {"values": [0, 50, 100, 150, 200, 250], "title": "Plasma total PYY (pg/ml)", "titlePadding": 10}}},
           "layer": [
            {"mark": {"type": "rule", "strokeWidth": 1.5, "color": "black"}, "encoding": {"y2": {"field": "bar"}}},
            {"mark": {"type": "line", "strokeWidth": 1.5, "color": "black"}, "encoding": {"strokeDash": {"field": "arm", "type": "nominal", "scale": {"domain": ["trt", "ctl"], "range": [[1, 0], [4, 2.5]]}, "legend": null}}},
            {"mark": {"type": "point", "shape": "circle", "filled": true, "size": 45, "stroke": "black", "strokeWidth": 1.3, "opacity": 1}, "encoding": {"fill": {"field": "arm", "type": "nominal", "scale": {"domain": ["trt", "ctl"], "range": ["black", "white"]}, "legend": null}}}
           ]},
          {"data": {"values": [{"l1": "AUC ratio: 1.5", "l2": "(95% CI: 1.36, 1.75)", "p": "p", "pv": "<0.0001"}]},
           "encoding": {
            "x": {"datum": 3.0, "type": "quantitative", "scale": {"domain": [-0.7, 10.7], "nice": false, "zero": false}, "axis": {"values": [0, 2, 4, 6, 8, 10], "title": "Time (h)", "titlePadding": 3}},
            "y": {"datum": 236, "type": "quantitative", "scale": {"domain": [0, 250], "nice": false}, "axis": {"values": [0, 50, 100, 150, 200, 250], "title": "Plasma total PYY (pg/ml)", "titlePadding": 10}}},
           "layer": [
            {"mark": {"type": "text", "align": "center", "baseline": "middle"}, "encoding": {"text": {"field": "l1"}}},
            {"mark": {"type": "text", "align": "center", "baseline": "middle", "dy": 14}, "encoding": {"text": {"field": "l2"}}},
            {"mark": {"type": "text", "align": "left", "baseline": "middle", "dy": 28, "dx": -25.2, "fontStyle": "italic"}, "encoding": {"text": {"field": "p"}}},
            {"mark": {"type": "text", "align": "left", "baseline": "middle", "dy": 28, "dx": -18.5}, "encoding": {"text": {"field": "pv"}}}
           ]}
         ]},
        {"width": 198, "height": 164,
         "title": {"text": "i", "dx": -3, "offset": 9},
         "layer": [
          {"data": {"values": [{"dose": 0}, {"dose": 5}]},
           "mark": {"type": "rule", "strokeDash": [1.5, 1.5], "strokeWidth": 1.5, "color": "black"},
           "encoding": {
            "x": {"field": "dose", "type": "quantitative", "scale": {"domain": [-0.7, 10.7], "nice": false, "zero": false}, "axis": {"values": [0, 2, 4, 6, 8, 10], "title": "Time (h)", "titlePadding": 3}},
            "y": {"datum": 0, "type": "quantitative", "scale": {"domain": [0, 250], "nice": false}, "axis": null},
            "y2": {"datum": 185}}},
          {"data": {"name": "ts"}, "transform": [{"filter": "datum.panel === 'i'"}],
           "encoding": {
            "x": {"field": "t", "type": "quantitative", "scale": {"domain": [-0.7, 10.7], "nice": false, "zero": false}, "axis": {"values": [0, 2, 4, 6, 8, 10], "title": "Time (h)", "titlePadding": 3}},
            "y": {"field": "v", "type": "quantitative", "scale": {"domain": [0, 250], "nice": false}, "axis": null}},
           "layer": [
            {"mark": {"type": "rule", "strokeWidth": 1.5, "color": "black"}, "encoding": {"y2": {"field": "bar"}}},
            {"mark": {"type": "line", "strokeWidth": 1.5, "color": "black"}, "encoding": {"strokeDash": {"field": "arm", "type": "nominal", "scale": {"domain": ["trt", "ctl"], "range": [[1, 0], [4, 2.5]]}, "legend": null}}},
            {"mark": {"type": "point", "shape": "square", "filled": true, "size": 45, "stroke": "black", "strokeWidth": 1.3, "opacity": 1}, "encoding": {"fill": {"field": "arm", "type": "nominal", "scale": {"domain": ["trt", "ctl"], "range": ["black", "white"]}, "legend": null}}}
           ]},
          {"data": {"values": [{"l1": "AUC ratio: 1.4", "l2": "(95% CI: 1.22, 1.57)", "p": "p", "pv": "<0.0001"}]},
           "encoding": {
            "x": {"datum": 2.86, "type": "quantitative", "scale": {"domain": [-0.7, 10.7], "nice": false, "zero": false}, "axis": {"values": [0, 2, 4, 6, 8, 10], "title": "Time (h)", "titlePadding": 3}},
            "y": {"datum": 236, "type": "quantitative", "scale": {"domain": [0, 250], "nice": false}, "axis": null}},
           "layer": [
            {"mark": {"type": "text", "align": "center", "baseline": "middle"}, "encoding": {"text": {"field": "l1"}}},
            {"mark": {"type": "text", "align": "center", "baseline": "middle", "dy": 14}, "encoding": {"text": {"field": "l2"}}},
            {"mark": {"type": "text", "align": "left", "baseline": "middle", "dy": 28, "dx": -25.2, "fontStyle": "italic"}, "encoding": {"text": {"field": "p"}}},
            {"mark": {"type": "text", "align": "left", "baseline": "middle", "dy": 28, "dx": -18.5}, "encoding": {"text": {"field": "pv"}}}
           ]}
         ]},
        {"width": 198, "height": 164,
         "title": {"text": "j", "dx": -3, "offset": 6},
         "layer": [
          {"data": {"values": [{"dose": 0}, {"dose": 5}]},
           "mark": {"type": "rule", "strokeDash": [1.5, 1.5], "strokeWidth": 1.5, "color": "black"},
           "encoding": {
            "x": {"field": "dose", "type": "quantitative", "scale": {"domain": [-0.7, 10.7], "nice": false, "zero": false}, "axis": {"values": [0, 2, 4, 6, 8, 10], "title": "Time (h)", "titlePadding": 3}},
            "y": {"datum": 0, "type": "quantitative", "scale": {"domain": [0, 250], "nice": false}, "axis": null},
            "y2": {"datum": 184}}},
          {"data": {"name": "ts"}, "transform": [{"filter": "datum.panel === 'j'"}],
           "encoding": {
            "x": {"field": "t", "type": "quantitative", "scale": {"domain": [-0.7, 10.7], "nice": false, "zero": false}, "axis": {"values": [0, 2, 4, 6, 8, 10], "title": "Time (h)", "titlePadding": 3}},
            "y": {"field": "v", "type": "quantitative", "scale": {"domain": [0, 250], "nice": false}, "axis": null}},
           "layer": [
            {"mark": {"type": "rule", "strokeWidth": 1.5, "color": "black"}, "encoding": {"y2": {"field": "bar"}}},
            {"mark": {"type": "line", "strokeWidth": 1.5, "color": "black"}, "encoding": {"strokeDash": {"field": "arm", "type": "nominal", "scale": {"domain": ["trt", "ctl"], "range": [[1, 0], [4, 2.5]]}, "legend": null}}},
            {"mark": {"type": "point", "shape": "triangle-up", "filled": true, "size": 45, "stroke": "black", "strokeWidth": 1.3, "opacity": 1}, "encoding": {"fill": {"field": "arm", "type": "nominal", "scale": {"domain": ["trt", "ctl"], "range": ["black", "white"]}, "legend": null}}}
           ]},
          {"data": {"values": [{"l1": "AUC ratio: 1.5", "l2": "(95% CI: 1.34, 1.59)", "p": "p", "pv": "<0.0001"}]},
           "encoding": {
            "x": {"datum": 2.9, "type": "quantitative", "scale": {"domain": [-0.7, 10.7], "nice": false, "zero": false}, "axis": {"values": [0, 2, 4, 6, 8, 10], "title": "Time (h)", "titlePadding": 3}},
            "y": {"datum": 236, "type": "quantitative", "scale": {"domain": [0, 250], "nice": false}, "axis": null}},
           "layer": [
            {"mark": {"type": "text", "align": "center", "baseline": "middle"}, "encoding": {"text": {"field": "l1"}}},
            {"mark": {"type": "text", "align": "center", "baseline": "middle", "dy": 14}, "encoding": {"text": {"field": "l2"}}},
            {"mark": {"type": "text", "align": "left", "baseline": "middle", "dy": 28, "dx": -25.2, "fontStyle": "italic"}, "encoding": {"text": {"field": "p"}}},
            {"mark": {"type": "text", "align": "left", "baseline": "middle", "dy": 28, "dx": -18.5}, "encoding": {"text": {"field": "pv"}}}
           ]}
         ]}
       ]
      }
     ]
    }
   ]
  }
 ]
}
